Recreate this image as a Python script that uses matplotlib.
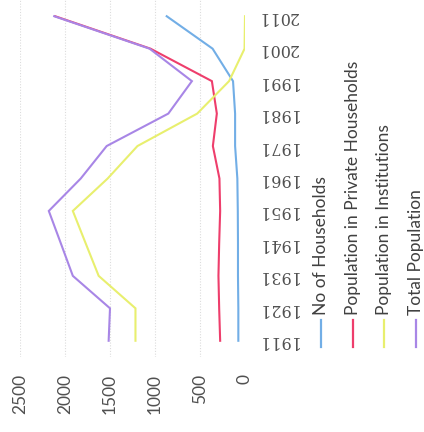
import matplotlib
matplotlib.use("Agg")
import matplotlib.pyplot as plt
from matplotlib.lines import Line2D

# census years and series (thousands)
years = ["1911", "1921", "1931", "1941", "1951", "1961", "1971", "1981", "1991", "2001", "2011"]
households = [74, 74, 78, 78, 80, 85, 110, 110, 133, 360, 870]
private_pop = [276, 287, 295, 287, 276, 284, 357, 313, 368, 1050, 2110]
institution_pop = [1217, 1217, 1626, 1770, 1913, 1526, 1195, 531, 177, 5, 0]
total_pop = [1515, 1500, 1913, 2046, 2180, 1825, 1537, 852, 590, 1060, 2120]

series = [
    ("No of Households", households, "#72aee6"),
    ("Population in Private Households", private_pop, "#ee3e6c"),
    ("Population in Institutions", institution_pop, "#e8ef6e"),
    ("Total Population", total_pop, "#a886e6"),
]
value_ticks = [0, 500, 1000, 1500, 2000, 2500]

W, H = 424, 432
fig = plt.figure(figsize=(W / 100, H / 100), dpi=100)
ax = fig.add_axes([20 / W, 1 - 357 / H, 225 / W, 357 / H])

pos = list(range(len(years)))
for name, vals, col in series:
    ax.plot(vals, pos, color=col, lw=1.5, solid_joinstyle="miter")

ax.set_xlim(2500, 0)
ax.set_ylim(-0.5, len(years) - 0.5)
for v in value_ticks[1:]:
    ax.axvline(v, color="#dcdcdc", lw=0.8, ls=(0, (1, 1.5)), zorder=0)

for s in ax.spines.values():
    s.set_visible(False)

ax.set_xticks(value_ticks)
ax.set_xticklabels([str(v) for v in value_ticks], rotation=90,
                   fontfamily="Lato", fontsize=12.5, color="#505050")
ax.tick_params(axis="x", length=0, pad=12)

ax.yaxis.tick_right()
ax.set_yticks(pos)
ax.set_yticklabels(years, rotation=180, fontfamily="DejaVu Serif",
                   fontsize=11.5, color="#505050", va="center")
ax.tick_params(axis="y", length=0, pad=9)

# legend drawn by hand, entries laid out side by side and reading upwards
leg_x = [321, 353, 384, 416]
for (name, vals, col), x in zip(series, leg_x):
    fig.add_artist(Line2D([x / W, x / W], [1 - 320 / H, 1 - 347 / H],
                          color=col, lw=1.6, transform=fig.transFigure))
    fig.text(x / W, 1 - 315 / H, name, rotation=90, ha="center", va="bottom",
             fontfamily="Lato", fontsize=12.5, color="#404040")

fig.savefig("out.png", dpi=100)
